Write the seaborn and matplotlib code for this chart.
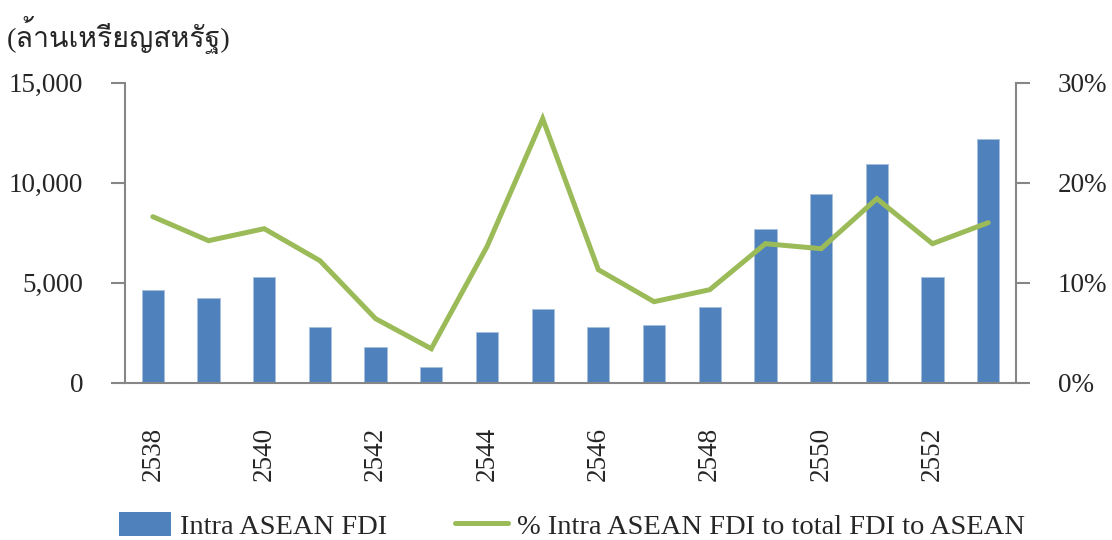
import numpy as np
import pandas as pd
import seaborn as sns
from matplotlib import pyplot as plt
from matplotlib import font_manager as fm
from matplotlib.ft2font import FT2Font
from matplotlib.patches import Patch
from matplotlib.lines import Line2D
from matplotlib.ticker import FuncFormatter, FixedLocator

years = ["2538", "2539", "2540", "2541", "2542", "2543", "2544", "2545",
         "2546", "2547", "2548", "2549", "2550", "2551", "2552", "2553"]
intra_fdi = [4630, 4230, 5270, 2770, 1770, 770, 2540, 3670,
             2770, 2870, 3770, 7670, 9450, 10950, 5270, 12170]
intra_share = [16.6, 14.2, 15.4, 12.2, 6.4, 3.4, 13.6, 26.4,
               11.3, 8.1, 9.3, 13.9, 13.4, 18.4, 13.9, 16.0]
tick_years = ["2538", "2540", "2542", "2544", "2546", "2548", "2550", "2552"]
unit_label = "(ล้านเหรียญสหรัฐ)"
bar_label = "Intra ASEAN FDI"
line_label = "% Intra ASEAN FDI to total FDI to ASEAN"

BLUE = "#4F81BD"
GREEN = "#9BBB59"
GRAY = "#868686"
FS = 19.5


def find_thai_font():
    for f in fm.fontManager.ttflist:
        try:
            if 0x0E25 in FT2Font(f.fname).get_charmap():
                return f.name
        except Exception:
            pass
    return "DejaVu Sans"


sns.set_style("white")
plt.rcParams["font.family"] = ["Liberation Serif", "DejaVu Serif"]
plt.rcParams["font.size"] = FS

df = pd.DataFrame({"year": years, "fdi": intra_fdi, "share": intra_share})

fig = plt.figure(figsize=(11.12, 5.4), dpi=100)
ax = fig.add_axes([0.1124, 0.2913, 0.8013, 0.5556])
sns.barplot(data=df, x="year", y="fdi", color=BLUE, width=0.4,
            saturation=1, edgecolor="#A7BFDE", linewidth=0.6, ax=ax)
ax.set_xlim(-0.5, len(years) - 0.5)
ax.set_ylim(0, 15000)
ax.set_yticks([0, 5000, 10000, 15000])
ax.yaxis.set_major_formatter(FuncFormatter(lambda v, p: f"{int(v):,}"))
ax.set_xlabel("")
ax.set_ylabel("")

ax2 = ax.twinx()
sns.lineplot(x=df.index, y=df["share"], color=GREEN, linewidth=3.6,
             ax=ax2, solid_capstyle="round", solid_joinstyle="miter")
ax2.set_ylim(0, 30)
ax2.set_yticks([0, 10, 20, 30])
ax2.yaxis.set_major_formatter(FuncFormatter(lambda v, p: f"{int(v)}%"))
ax2.set_ylabel("")

# category labels every other year, boundary ticks
pos = [years.index(y) for y in tick_years]
ax.set_xticks(pos)
ax.set_xticklabels(tick_years, rotation=90, va="top", ha="center")
ax.xaxis.set_minor_locator(FixedLocator(np.arange(-0.5, len(years), 1.0)))
ax.tick_params(axis="x", which="major", length=0, pad=32, labelsize=FS)
ax.tick_params(axis="x", which="minor", length=9.5, width=1.5,
               color=GRAY, direction="out")
ax.tick_params(axis="y", length=10, width=1.5, color=GRAY, pad=20,
               labelsize=FS, direction="out", left=True)
ax2.tick_params(axis="y", length=10, width=1.5, color=GRAY, pad=20,
                labelsize=FS, direction="out", right=True)

for a in (ax, ax2):
    for s in a.spines.values():
        s.set_color(GRAY)
        s.set_linewidth(1.5)
    a.spines["top"].set_visible(False)
ax.spines["right"].set_visible(False)
ax2.spines["left"].set_visible(False)
ax2.spines["bottom"].set_visible(False)

fig.text(0.006, 0.935, unit_label, fontsize=20.5, va="center", ha="left",
         family=["Liberation Serif", find_thai_font()])

handles = [Patch(facecolor=BLUE, edgecolor="none"),
           Line2D([0], [0], color=GREEN, linewidth=3.6)]
fig.legend(handles, [bar_label, line_label], loc="center",
           bbox_to_anchor=(0.514, 0.026), ncol=2, frameon=False,
           fontsize=20.5, handlelength=1.85, handleheight=0.95,
           handletextpad=0.3, columnspacing=2.4, borderaxespad=0)

fig.savefig("out.png", dpi=100)
